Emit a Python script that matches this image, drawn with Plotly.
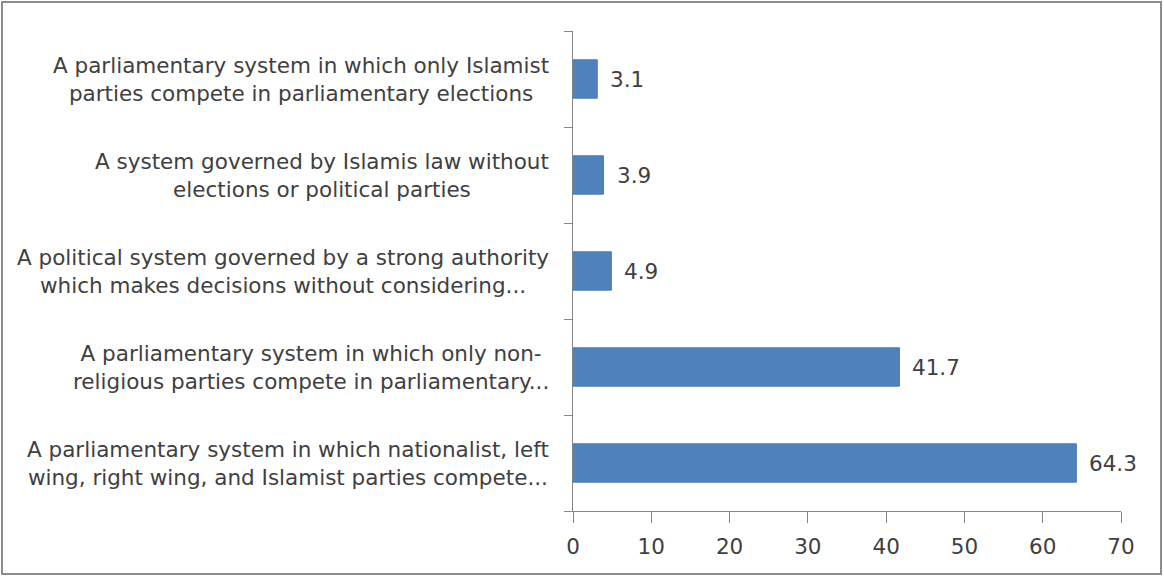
import plotly.graph_objects as go

# Survey: preferred political system (%)
categories = [
    "A parliamentary system in which nationalist, left<br>wing, right wing, and Islamist parties compete...",
    "A parliamentary system in which only non-<br>religious parties compete in parliamentary...",
    "A political system governed by a strong authority<br>which makes decisions without considering...",
    "A system governed by Islamis law without<br>elections or political parties",
    "A parliamentary system in which only Islamist<br>parties compete in parliamentary elections",
]
values = [64.3, 41.7, 4.9, 3.9, 3.1]
x_ticks = [0, 10, 20, 30, 40, 50, 60, 70]

positions = list(range(len(categories)))
bar_color = "#4F81BD"
text_color = "#404040"
axis_color = "#868686"
font_family = "'DejaVu Sans', sans-serif"
font_size = 21.5

W, H = 1164, 577
L, R, T, B = 573, 43, 31, 66

fig = go.Figure(
    go.Bar(
        x=values,
        y=positions,
        orientation="h",
        width=0.4,
        marker=dict(color=bar_color, line=dict(color="#4A7EBB", width=1)),
        hoverinfo="x",
    )
)

annotations = []
# category labels: lines centred, block right-aligned against the axis
for pos, label in zip(positions, categories):
    annotations.append(dict(
        x=0, xref="paper", y=pos, yref="y",
        text=label, showarrow=False,
        xanchor="right", yanchor="middle", align="center",
        xshift=-22,
        font=dict(family=font_family, size=font_size, color=text_color),
    ))
# value labels just past the bar ends
for pos, v in zip(positions, values):
    annotations.append(dict(
        x=v, xref="x", y=pos, yref="y",
        text=f"{v:.1f}", showarrow=False,
        xanchor="left", yanchor="middle", xshift=11,
        font=dict(family=font_family, size=font_size, color=text_color),
    ))

# outer frame around the whole chart
px_w = W - L - R
px_h = H - T - B
frame = dict(
    type="rect", xref="paper", yref="paper",
    x0=(2 - L) / px_w, x1=(W - 3 - L) / px_w,
    y0=-(B - 3) / px_h, y1=1 + (T - 2) / px_h,
    line=dict(color="#8C8C8C", width=2),
    layer="below",
)

fig.update_layout(
    width=W, height=H, autosize=False,
    margin=dict(l=L, r=R, t=T, b=B),
    paper_bgcolor="white", plot_bgcolor="white",
    showlegend=False,
    annotations=annotations,
    shapes=[frame],
    font=dict(family=font_family, size=font_size, color=text_color),
    xaxis=dict(
        range=[0, 70], tickvals=x_ticks, ticktext=[str(t) for t in x_ticks],
        showgrid=False, zeroline=False,
        showline=True, linecolor=axis_color, linewidth=1,
        ticks="outside", ticklen=11, tickcolor=axis_color,
        ticklabelstandoff=5,
        tickfont=dict(family=font_family, size=font_size, color=text_color),
        fixedrange=True,
    ),
    yaxis=dict(
        range=[-0.5, 4.5],
        tickvals=[-0.5, 0.5, 1.5, 2.5, 3.5, 4.5],
        ticktext=[""] * 6,
        showgrid=False, zeroline=False,
        showline=True, linecolor=axis_color, linewidth=1,
        ticks="outside", ticklen=8, tickcolor=axis_color,
        fixedrange=True,
    ),
)

fig.write_html(
    "out.html",
    config={"responsive": False, "displayModeBar": False},
)
